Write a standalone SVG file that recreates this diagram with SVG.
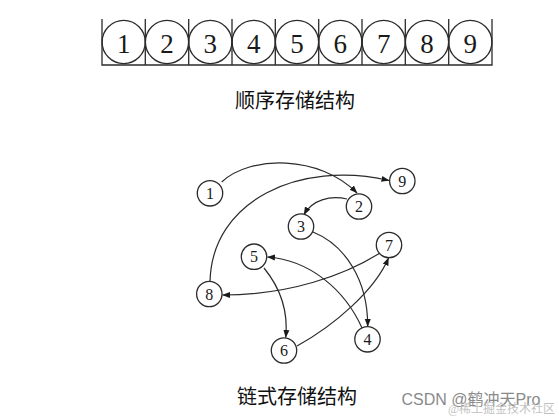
<svg xmlns="http://www.w3.org/2000/svg" width="559" height="418" viewBox="0 0 559 418">
<style>
.ln{fill:none;stroke:#2b2b2b;stroke-width:1.3}
.cc{fill:#fff;stroke:#2b2b2b;stroke-width:1.3}
.big{font-family:"Liberation Serif",serif;font-size:27px;fill:#1a1a1a;text-anchor:middle}
.sm{font-family:"Liberation Serif",serif;font-size:16px;fill:#1a1a1a;text-anchor:middle}
.ttl{font-family:"Noto Sans CJK SC",sans-serif;font-size:20px;fill:#111;text-anchor:middle}
.ed{fill:none;stroke:#2b2b2b;stroke-width:1.2;marker-end:url(#ah)}
</style>
<defs>
<marker id="ah" markerUnits="userSpaceOnUse" markerWidth="8" markerHeight="8" viewBox="0 0 8 8" refX="7.5" refY="4" orient="auto">
<path d="M0,1 L8,4 L0,7 Z" fill="#1a1a1a"/>
</marker>
</defs>
<g id="array">
<path class="ln" d="M102,19V65H492V19M145.3,19V65M188.7,19V65M232,19V65M275.3,19V65M318.7,19V65M362,19V65M405.3,19V65M448.7,19V65"/>
<g id="a1"><circle class="ln" cx="123.7" cy="42" r="21.6"/><text class="big" x="123.7" y="53">1</text></g>
<g id="a2"><circle class="ln" cx="167" cy="42" r="21.6"/><text class="big" x="167" y="53">2</text></g>
<g id="a3"><circle class="ln" cx="210.3" cy="42" r="21.6"/><text class="big" x="210.3" y="53">3</text></g>
<g id="a4"><circle class="ln" cx="253.7" cy="42" r="21.6"/><text class="big" x="253.7" y="53">4</text></g>
<g id="a5"><circle class="ln" cx="297" cy="42" r="21.6"/><text class="big" x="297" y="53">5</text></g>
<g id="a6"><circle class="ln" cx="340.3" cy="42" r="21.6"/><text class="big" x="340.3" y="53">6</text></g>
<g id="a7"><circle class="ln" cx="383.7" cy="42" r="21.6"/><text class="big" x="383.7" y="53">7</text></g>
<g id="a8"><circle class="ln" cx="427" cy="42" r="21.6"/><text class="big" x="427" y="53">8</text></g>
<g id="a9"><circle class="ln" cx="470.3" cy="42" r="21.6"/><text class="big" x="470.3" y="53">9</text></g>
</g>
<text class="ttl" x="295" y="108">顺序存储结构</text>
<g id="connectors">
<path class="ed" d="M221.7,182 C250,155 320,155 357,193"/>
<path class="ed" d="M210,281.5 C212,200 300,160 389,180.5"/>
<path class="ed" d="M347,199 C330,195 312,200 304,214.5"/>
<path class="ed" d="M313,232 C345,245 368,280 367.7,326.5"/>
<path class="ed" d="M362,328 C345,290 310,260 267.5,257"/>
<path class="ed" d="M264,268 C282,290 288,315 285.7,337.5"/>
<path class="ed" d="M297,346 C335,325 375,290 388.5,258"/>
<path class="ed" d="M380,253 C345,275 290,295 222.5,295"/>
</g>
<g id="n1"><circle class="cc" cx="210" cy="193.3" r="12.7"/><text class="sm" x="210" y="199">1</text></g>
<g id="n2"><circle class="cc" cx="359" cy="206.5" r="12.7"/><text class="sm" x="359" y="212">2</text></g>
<g id="n3"><circle class="cc" cx="301" cy="226.5" r="12.7"/><text class="sm" x="301" y="232">3</text></g>
<g id="n4"><circle class="cc" cx="367.5" cy="339.3" r="12.7"/><text class="sm" x="367.5" y="345">4</text></g>
<g id="n5"><circle class="cc" cx="254" cy="256.7" r="12.7"/><text class="sm" x="254" y="262.4">5</text></g>
<g id="n6"><circle class="cc" cx="284" cy="350.5" r="12.7"/><text class="sm" x="284" y="356.2">6</text></g>
<g id="n7"><circle class="cc" cx="389" cy="245" r="12.7"/><text class="sm" x="389" y="250.7">7</text></g>
<g id="n8"><circle class="cc" cx="209.3" cy="294" r="12.7"/><text class="sm" x="209.3" y="299.7">8</text></g>
<g id="n9"><circle class="cc" cx="402.3" cy="181" r="12.7"/><text class="sm" x="402.3" y="186.7">9</text></g>
<text class="ttl" x="297" y="404">链式存储结构</text>
<text x="401.5" y="405" font-family="'Liberation Sans','Noto Sans CJK SC',sans-serif" font-size="16" fill="#8a8a8a">CSDN @鹤冲天Pro</text>
<text x="448" y="413" font-family="'Liberation Serif','Noto Sans CJK SC',serif" font-size="12" fill="#b5b5b5" fill-opacity="0.85">@稀土掘金技术社区</text>
</svg>
